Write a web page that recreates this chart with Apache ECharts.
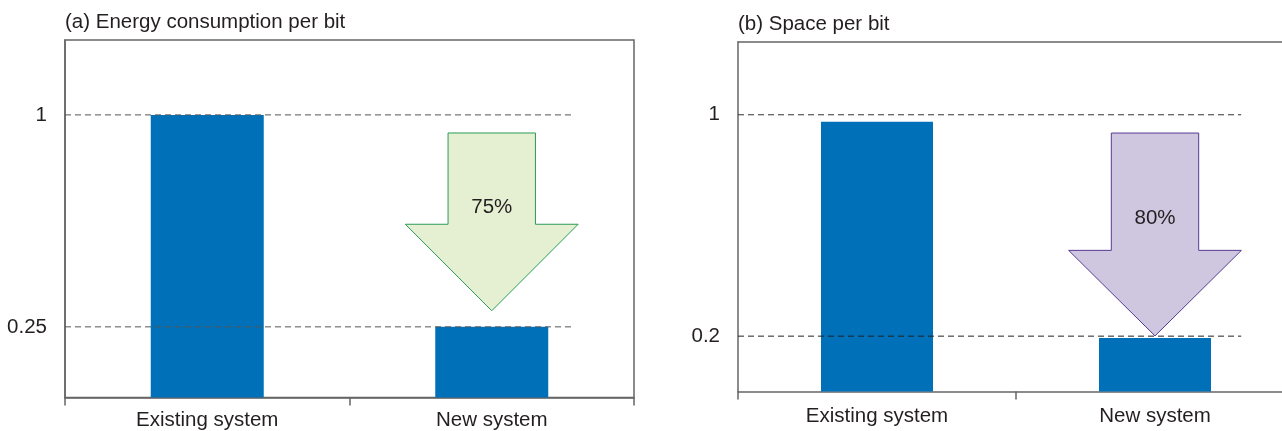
<!DOCTYPE html>
<html>
<head>
<meta charset="utf-8">
<script src="https://cdn.jsdelivr.net/npm/echarts@6/dist/echarts.min.js"></script>
<style>
  html, body { margin: 0; padding: 0; background: #fff; }
  #chart { width: 1282px; height: 431px; }
</style>
</head>
<body>
<div id="chart"></div>
<script>
// data
var categories = ['Existing system', 'New system'];
var energyValues = [1, 0.25];
var spaceValues = [0.975, 0.193];
var energyRefLines = [1, 0.25];
var spaceRefLines = [1, 0.2];
var energyTicks = [0.25, 1];
var spaceTicks = [0.2, 1];
// arrow: [top, neck, tip, label y] in value units, plus the label text
var arrowA = [0.936, 0.613, 0.307, 0.674];
var arrowB = [0.934, 0.51, 0.201, 0.625];
var arrowLabels = ['75%', '80%'];

var FONT = "'Liberation Sans', Arial, Helvetica, sans-serif";
var FS = 20.5;
var TEXT = '#231f20';
var AXIS = '#666';
var BAR = '#0070b9';

function refLineSeries(xi, yi, value, end, color) {
  return {
    type: 'line', xAxisIndex: xi, yAxisIndex: yi, silent: true, z: 5,
    symbol: 'none', animation: false,
    lineStyle: { color: color, width: 1, type: [6, 4] },
    data: [[0, value], [end, value]]
  };
}

function arrowSeries(xi, yi, arr, label, fill, stroke) {
  return {
    type: 'custom', xAxisIndex: xi, yAxisIndex: yi, silent: true, z: 6,
    encode: { x: 0, y: [1, 2, 3, 4] },
    data: [[1.5].concat(arr)],
    renderItem: function (params, api) {
      var top = api.coord([api.value(0), api.value(1)]);
      var neck = api.coord([api.value(0), api.value(2)]);
      var tip = api.coord([api.value(0), api.value(3)]);
      var lab = api.coord([api.value(0), api.value(4)]);
      var cx = top[0], sh = 43.7, hh = 86.4;
      return {
        type: 'group',
        children: [{
          type: 'polygon',
          shape: { points: [
            [cx - sh, top[1]], [cx + sh, top[1]], [cx + sh, neck[1]],
            [cx + hh, neck[1]], [cx, tip[1]], [cx - hh, neck[1]], [cx - sh, neck[1]]
          ] },
          style: { fill: fill, stroke: stroke, lineWidth: 1 }
        }, {
          type: 'text',
          x: cx, y: lab[1],
          style: { text: label, fill: TEXT, font: FS + 'px ' + FONT, align: 'center', verticalAlign: 'middle' }
        }]
      };
    }
  };
}

function catAxis(gi, margin) {
  return {
    type: 'category', gridIndex: gi, data: categories,
    axisLine: { lineStyle: { color: AXIS, width: 1.5 } },
    axisTick: { show: true, length: 8, lineStyle: { color: AXIS, width: 1.5 } },
    axisLabel: { color: TEXT, fontSize: FS, fontFamily: FONT, margin: margin }
  };
}
function valXAxis(gi, topLine) {
  return {
    type: 'value', gridIndex: gi, min: 0, max: 2, show: !!topLine, position: 'top',
    axisLine: { show: !!topLine, lineStyle: { color: AXIS, width: 1.5 } },
    axisTick: { show: false }, axisLabel: { show: false }, splitLine: { show: false }
  };
}
function valYAxis(gi, max, ticks) {
  return {
    type: 'value', gridIndex: gi, min: 0, max: max,
    axisLine: { show: true, lineStyle: { color: AXIS, width: 1.5 } },
    axisTick: { show: false },
    splitLine: { show: false },
    axisLabel: { customValues: ticks, color: TEXT, fontSize: FS, fontFamily: FONT, margin: 18 }
  };
}

var option = {
  animation: false,
  textStyle: { fontFamily: FONT },
  title: [
    { text: '(a) Energy consumption per bit', left: 65, top: 12, padding: 0,
      textStyle: { color: TEXT, fontSize: FS, fontWeight: 'normal', fontFamily: FONT } },
    { text: '(b) Space per bit', left: 738, top: 14, padding: 0,
      textStyle: { color: TEXT, fontSize: FS, fontWeight: 'normal', fontFamily: FONT } }
  ],
  grid: [
    { left: 65, top: 40, width: 569, bottom: 33.5, outerBoundsMode: 'none', containLabel: false,
      show: true, borderColor: AXIS, borderWidth: 1.5 },
    { left: 738, top: 42, width: 556, bottom: 39.5, outerBoundsMode: 'none', containLabel: false }
  ],
  xAxis: [catAxis(0, 12), valXAxis(0, false), catAxis(1, 14), valXAxis(1, true)],
  yAxis: [valYAxis(0, 1.265, energyTicks), valYAxis(1, 1.263, spaceTicks)],
  series: [
    { type: 'bar', xAxisIndex: 0, yAxisIndex: 0, data: energyValues, barWidth: 113,
      itemStyle: { color: BAR } },
    { type: 'bar', xAxisIndex: 2, yAxisIndex: 1, data: spaceValues, barWidth: 112,
      itemStyle: { color: BAR } },
    refLineSeries(1, 0, energyRefLines[0], 1.78, '#555'),
    refLineSeries(1, 0, energyRefLines[1], 1.78, '#555'),
    refLineSeries(3, 1, spaceRefLines[0], 1.81, '#333'),
    refLineSeries(3, 1, spaceRefLines[1], 1.81, '#222'),
    arrowSeries(1, 0, arrowA, arrowLabels[0], '#e5f0d3', '#2c9b57'),
    arrowSeries(3, 1, arrowB, arrowLabels[1], '#cfc6e0', '#563a92')
  ]
};

var myChart = echarts.init(document.getElementById('chart'));
myChart.setOption(option);
</script>
</body>
</html>
